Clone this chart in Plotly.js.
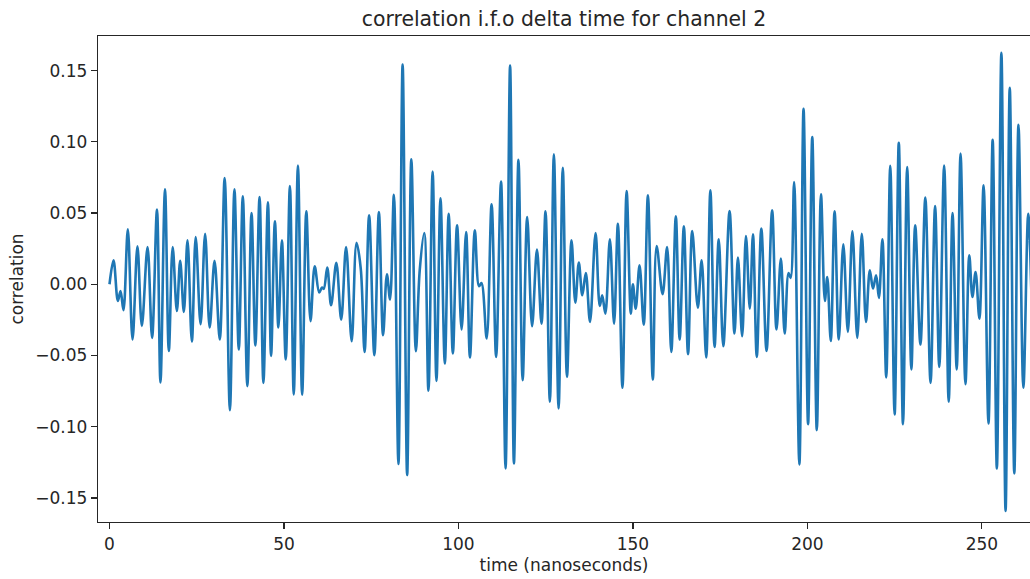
<!DOCTYPE html>
<html>
<head>
<meta charset="utf-8">
<script src="https://cdn.plot.ly/plotly-3.0.1.min.js"></script>
<style>html,body{margin:0;padding:0;background:#fff;}#chart{width:1030px;height:579px;}</style>
</head>
<body>
<div id="chart"></div>
<script>
// time (ns) of each turning point
var timeNs = [
  0, 1.15, 2.39, 3.15, 4.0, 5.25, 6.6, 8.0, 9.27, 10.9,
  12.2, 13.6, 14.6, 15.9, 17.0, 18.1, 19.3, 20.25, 21.3, 22.35,
  23.6, 24.7, 26.1, 27.4, 28.7, 30.1, 31.6, 33.0, 34.5, 35.8,
  37.05, 38.2, 39.5, 40.7, 41.8, 43.0, 44.1, 45.4, 46.3, 47.4,
  48.4, 49.4, 50.5, 51.7, 52.8, 54.0, 55.2, 56.4, 57.6, 58.8,
  60.1, 60.9, 61.4, 62.4, 63.5, 65.0, 66.4, 67.8, 69.4, 70.8,
  72.0, 73.1, 74.4, 75.9, 77.2, 78.4, 79.5, 80.4, 81.5, 82.8,
  84.0, 85.3, 86.5, 87.8, 88.9, 90.2, 91.4, 92.6, 93.7, 94.85,
  96.1, 97.2, 98.4, 99.6, 100.9, 102.2, 103.3, 104.7, 105.9, 106.6,
  108.1, 109.5, 110.8, 112.2, 113.5, 114.8, 115.9, 117.2, 118.4, 119.7,
  121.1, 122.5, 123.8, 124.95, 126.2, 127.35, 128.7, 129.9, 131.1, 132.4,
  133.5, 134.5, 135.5, 136.5, 137.7, 139.3, 140.5, 141.2, 142.1, 143.4,
  144.6, 145.7, 147.0, 148.2, 149.4, 150.0, 150.8, 151.9, 153.1, 154.3,
  155.7, 156.8, 158.5, 159.8, 161.0, 162.3, 163.4, 164.6, 165.8, 167.0,
  168.6, 169.7, 171.0, 172.2, 173.4, 174.6, 175.9, 177.7, 179.1, 180.1,
  181.3, 182.4, 183.5, 184.4, 185.5, 186.8, 188.3, 189.9, 191.15, 192.4,
  193.5, 194.6, 195.2, 196.2, 197.7, 198.9, 200.2, 201.4, 202.7, 203.9,
  205.0, 205.7, 206.7, 207.8, 209.0, 210.3, 211.6, 212.9, 214.3, 215.6,
  216.8, 217.9, 218.8, 219.7, 220.5, 221.5, 222.6, 223.75, 225.0, 226.2,
  227.4, 228.6, 229.8, 230.9, 232.4, 233.8, 235.3, 236.6, 237.8, 239.2,
  240.5, 241.6, 242.8, 243.9, 245.3, 246.4, 247.3, 248.2, 249.3, 250.5,
  251.9, 253.1, 254.3, 255.6, 256.8, 258.0, 259.3, 260.5, 261.9, 263.3,
  264.6
];
// correlation at those times
var correlation = [
  0, 0.0168, -0.0117, -0.0047, -0.0182, 0.0386, -0.0388, 0.0266, -0.0292, 0.0262,
  -0.0376, 0.0524, -0.0690, 0.0666, -0.0468, 0.0262, -0.0187, 0.0164, -0.0194, 0.0309,
  -0.0402, 0.0332, -0.0281, 0.0355, -0.0304, 0.0164, -0.0388, 0.0746, -0.0884, 0.0666,
  -0.0458, 0.0617, -0.0715, 0.0500, -0.0430, 0.0612, -0.0692, 0.0575, -0.0503, 0.0442,
  -0.0304, 0.0309, -0.0528, 0.0690, -0.0774, 0.0834, -0.0776, 0.0512, -0.0259, 0.0126,
  -0.0058, -0.0023, -0.0032, 0.0117, -0.0147, 0.0150, -0.0248, 0.0262, -0.0400, 0.0292,
  0.0110, -0.0475, 0.0484, -0.0498, 0.0507, -0.0358, 0.0070, -0.0107, 0.0629, -0.1262,
  0.1543, -0.1339, 0.0877, -0.0470, 0.0098, 0.0360, -0.0748, 0.0792, -0.0678, 0.0603,
  -0.0556, 0.0495, -0.0486, 0.0414, -0.0318, 0.0367, -0.0514, 0.0379, -0.0014, 0.0009,
  -0.0381, 0.0561, -0.0510, 0.0722, -0.1293, 0.1536, -0.1258, 0.0874, -0.0673, 0.0472,
  -0.0295, 0.0243, -0.0276, 0.0512, -0.0825, 0.0912, -0.0872, 0.0818, -0.0650, 0.0309,
  -0.0129, 0.0152, -0.0077, 0.0079, -0.0264, 0.0360, -0.0152, -0.0077, -0.0206, 0.0316,
  -0.0276, 0.0425, -0.0727, 0.0654, -0.0206, 0.0000, -0.0171, 0.0133, -0.0283, 0.0624,
  -0.0669, 0.0269, -0.0070, 0.0262, -0.0475, 0.0477, -0.0388, 0.0407, -0.0491, 0.0374,
  -0.0164, 0.0168, -0.0514, 0.0659, -0.0440, 0.0316, -0.0435, 0.0514, -0.0346, 0.0187,
  -0.0365, 0.0339, -0.0171, 0.0351, -0.0510, 0.0391, -0.0468, 0.0519, -0.0318, 0.0180,
  -0.0346, 0.0079, 0.0045, 0.0718, -0.1265, 0.1232, -0.0982, 0.1033, -0.1024, 0.0631,
  -0.0117, 0.0051, -0.0398, 0.0512, -0.0388, 0.0281, -0.0334, 0.0372, -0.0376, 0.0355,
  -0.0264, 0.0098, -0.0030, 0.0063, -0.0096, 0.0316, -0.0654, 0.0832, -0.0914, 0.0994,
  -0.0982, 0.0823, -0.0598, 0.0414, -0.0423, 0.0608, -0.0692, 0.0549, -0.0580, 0.0834,
  -0.0825, 0.0500, -0.0598, 0.0917, -0.0701, 0.0203, -0.0089, 0.0086, -0.0241, 0.0694,
  -0.0977, 0.1015, -0.1293, 0.1625, -0.1592, 0.1379, -0.1328, 0.1120, -0.0727, 0.0495,
  -0.0500
];
var xTicks = [0, 50, 100, 150, 200, 250];
var yTicks = [-0.15, -0.10, -0.05, 0.00, 0.05, 0.10, 0.15];

var font = "DejaVu Sans, sans-serif";
var trace = {
  x: timeNs, y: correlation, type: "scatter", mode: "lines",
  line: {color: "#1f77b4", width: 2.6, shape: "spline", smoothing: 1},
  hoverinfo: "skip"
};
var axisCommon = {
  showgrid: false, zeroline: false, showline: true, linecolor: "#262626", linewidth: 1.3,
  ticks: "outside", ticklen: 6, tickwidth: 1.3, tickcolor: "#262626",
  tickfont: {family: font, size: 17, color: "#262626"}
};
var layout = {
  width: 1030, height: 579,
  margin: {l: 98, r: 0, t: 36, b: 57, pad: 0},
  paper_bgcolor: "#fff", plot_bgcolor: "#fff",
  showlegend: false,
  title: {text: "correlation i.f.o delta time for channel 2", font: {family: font, size: 20.4, color: "#262626"},
          x: 0.5, xref: "paper", y: 1 - 19/579, yref: "container", yanchor: "middle"},
  xaxis: Object.assign({}, axisCommon, {
    range: [-3.3, 263.8], tickvals: xTicks, ticktext: xTicks.map(String), mirror: true,
    title: {text: "time (nanoseconds)", font: {family: font, size: 17, color: "#262626"}, standoff: 6}
  }),
  yaxis: Object.assign({}, axisCommon, {
    range: [-0.1669, 0.1743], tickvals: yTicks, tickformat: ".2f",
    title: {text: "correlation", font: {family: font, size: 17, color: "#262626"}, standoff: 7}
  })
};
Plotly.newPlot("chart", [trace], layout, {staticPlot: true, displayModeBar: false});
</script>
</body>
</html>
